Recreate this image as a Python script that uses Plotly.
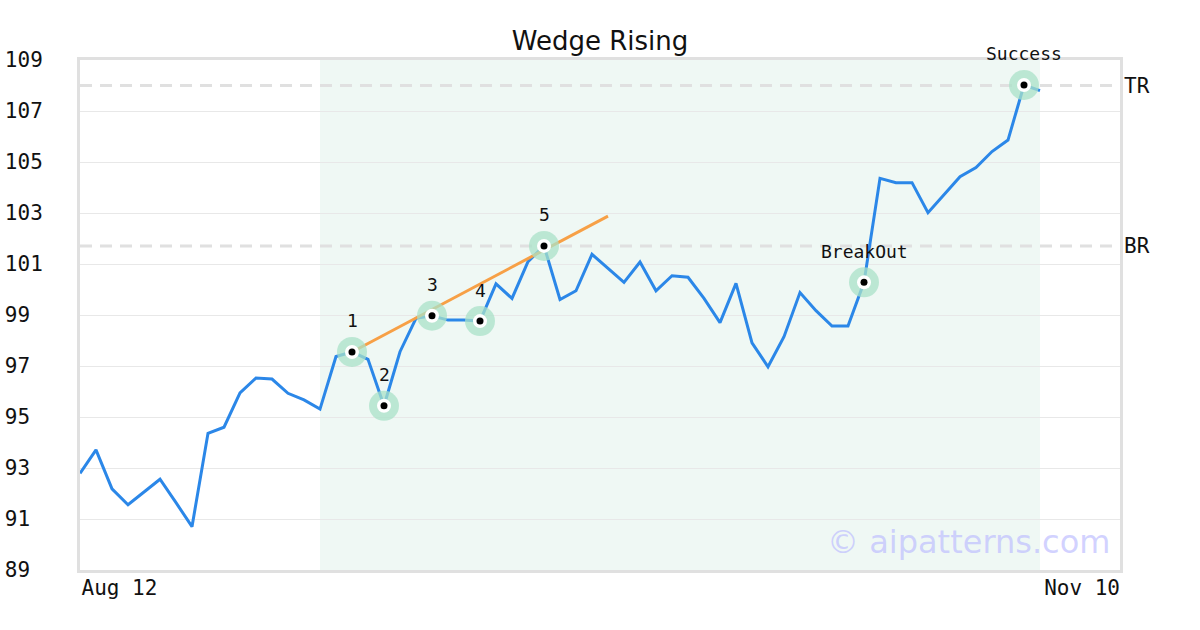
import plotly.graph_objects as go

# ---- data ----
prices = [92.79, 93.71, 92.18, 91.56, 92.06, 92.56, 91.64, 90.70, 94.36, 94.60,
          95.95, 96.53, 96.49, 95.93, 95.67, 95.31, 97.37, 97.55, 97.26, 95.44,
          97.56, 98.87, 98.97, 98.80, 98.80, 98.76, 100.22, 99.65, 101.09, 101.71,
          99.61, 99.95, 101.38, 100.83, 100.28, 101.08, 99.95, 100.54, 100.48, 99.65,
          98.70, 100.24, 97.91, 96.97, 98.15, 99.88, 99.17, 98.57, 98.57, 100.28,
          104.36, 104.19, 104.19, 103.01, 103.73, 104.42, 104.78, 105.41, 105.86, 108.02,
          107.80]
x_idx = list(range(len(prices)))

pattern_idx = [17, 19, 22, 25, 29, 49, 59]
pattern_labels = ["1", "2", "3", "4", "5", "BreakOut", "Success"]
pattern_vals = [prices[i] for i in pattern_idx]

trend_x = [17, 33]
trend_y = [97.55, 102.88]

pattern_start, pattern_end = 15, 60
level_names = ["TR", "BR"]
level_values = [108.0, 101.71]

date_first, date_last = "Aug 12", "Nov 10"
x_range = [0, 65]
y_ticks = [89, 91, 93, 95, 97, 99, 101, 103, 105, 107, 109]
y_range = [89, 109]

MONO = "DejaVu Sans Mono"
SANS = "DejaVu Sans"
FRAME = "#e0e0e0"

fig = go.Figure()

fig.add_trace(go.Scatter(x=x_idx, y=prices, mode="lines",
                         line=dict(color="#2b87e8", width=3), hoverinfo="skip"))
fig.add_trace(go.Scatter(x=trend_x, y=trend_y, mode="lines",
                         line=dict(color="#f7a046", width=3), hoverinfo="skip"))
fig.add_trace(go.Scatter(x=pattern_idx, y=pattern_vals, mode="markers",
                         marker=dict(size=30, color="rgba(170,226,200,0.75)"), hoverinfo="skip"))
fig.add_trace(go.Scatter(x=pattern_idx, y=pattern_vals, mode="markers",
                         marker=dict(size=14, color="white"), hoverinfo="skip"))
fig.add_trace(go.Scatter(x=pattern_idx, y=pattern_vals, mode="markers",
                         marker=dict(size=7, color="black"), hoverinfo="skip"))
# helper trace for second x-axis (last date label)
fig.add_trace(go.Scatter(x=[x_range[1]], y=[y_range[0]], xaxis="x2", mode="markers",
                         marker=dict(size=1, opacity=0), hoverinfo="skip"))

shapes = [dict(type="rect", xref="x", yref="paper", x0=pattern_start, x1=pattern_end,
               y0=0, y1=1, fillcolor="#eff8f4", line=dict(width=0), layer="below")]
for v in level_values:
    shapes.append(dict(type="line", xref="paper", yref="y", x0=0, x1=1, y0=v, y1=v,
                       line=dict(color=FRAME, width=3, dash="12px,8px"), layer="below"))

annotations = []
for i, v, lab in zip(pattern_idx, pattern_vals, pattern_labels):
    annotations.append(dict(x=i, y=v, text=lab, showarrow=False, yshift=31,
                            font=dict(family=MONO, size=18, color="#111")))
for name, v in zip(level_names, level_values):
    annotations.append(dict(x=1, xref="paper", y=v, yref="y", text=name, showarrow=False,
                            xanchor="left", xshift=2, font=dict(family=MONO, size=21, color="#111")))
annotations.append(dict(x=0.992, y=0.055, xref="paper", yref="paper", text="© aipatterns.com",
                        showarrow=False, xanchor="right", yanchor="middle",
                        font=dict(family=SANS, size=32, color="rgba(190,190,255,0.7)")))

fig.update_layout(
    width=1200, height=630,
    margin=dict(l=80, r=80, t=60, b=60),
    paper_bgcolor="white", plot_bgcolor="white",
    showlegend=False,
    title=dict(text="Wedge Rising", x=0.5, xanchor="center", y=0.935, yanchor="middle",
               font=dict(family=SANS, size=26, color="#111")),
    xaxis=dict(range=x_range, tickvals=[x_range[0]], ticktext=[date_first],
               ticklabelposition="outside right", showgrid=False, zeroline=False,
               showline=True, linecolor=FRAME, linewidth=3, mirror=True, ticks="",
               automargin=False, ticklabelstandoff=-3,
               tickfont=dict(family=MONO, size=21, color="#111")),
    xaxis2=dict(range=x_range, overlaying="x", side="bottom", tickvals=[x_range[1]],
                ticktext=[date_last], ticklabelposition="outside left", showgrid=False,
                zeroline=False, showline=False, ticks="", automargin=False,
                ticklabelstandoff=3,
                tickfont=dict(family=MONO, size=21, color="#111")),
    yaxis=dict(range=y_range, tickvals=y_ticks,
               ticktext=[str(t) + "\u00a0" * (3 - len(str(t))) for t in y_ticks],
               showgrid=True, gridcolor="#e8e8e8", gridwidth=1, zeroline=False,
               showline=True, linecolor=FRAME, linewidth=3, mirror=True, ticks="",
               ticklabelstandoff=30, automargin=False,
               tickfont=dict(family=MONO, size=21, color="#111")),
    shapes=shapes,
    annotations=annotations,
)

# remove the browser's default 8px page margin so the figure sits at the window origin
fig.write_html("out.html", config={"displayModeBar": False},
               post_script="document.body.style.margin='0px';document.body.style.overflow='hidden';")
